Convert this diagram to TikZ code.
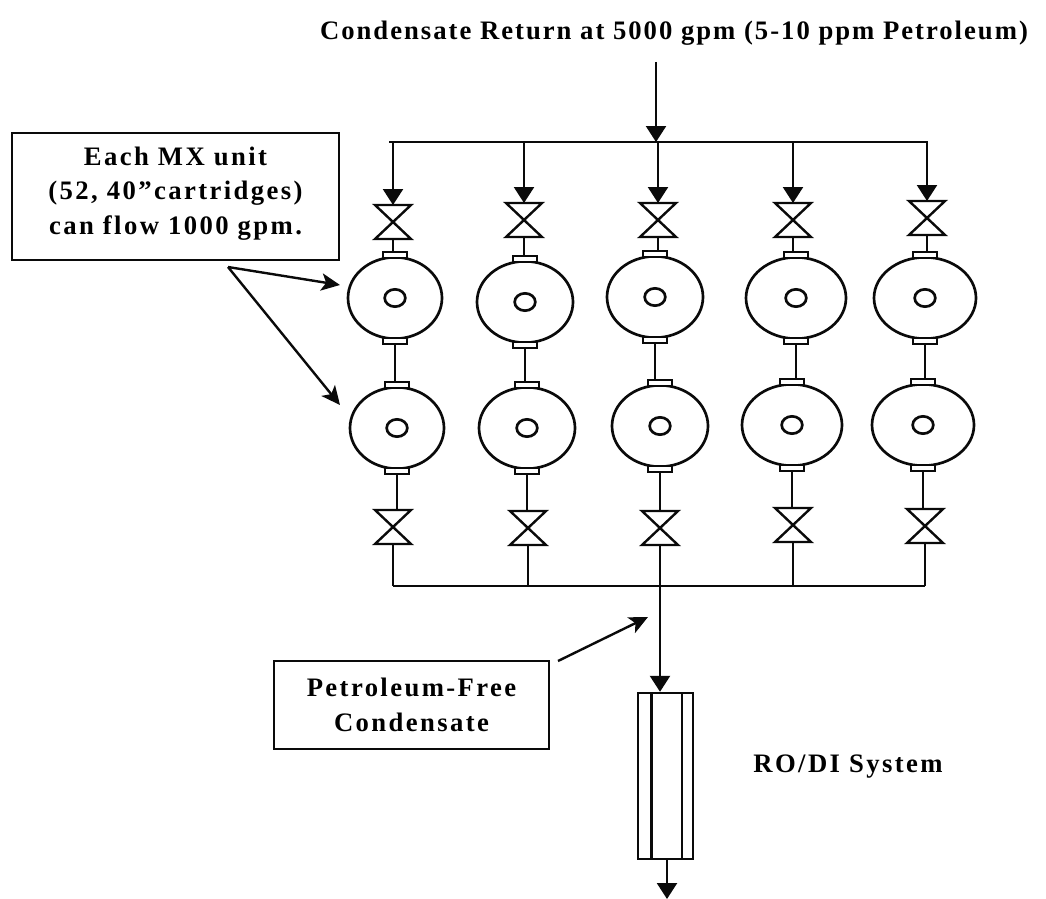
\documentclass[tikz,border=0pt]{standalone}
\usepackage{fontspec}
\setmainfont[LetterSpace=9]{Liberation Serif}
\usetikzlibrary{arrows.meta, positioning, shapes.geometric}
\definecolor{inkblack}{HTML}{0A0A0A}
\tikzset{
  pipe/.style={inkblack,line width=1.8pt},
  flow/.style={pipe,-{Triangle[length=12pt,width=15pt]}},
  callout/.style={inkblack,line width=1.8pt,-{Stealth[length=14pt,width=13pt,inset=3.5pt]}},
  vessel/.style={draw=inkblack,line width=2pt,ellipse,inner sep=0pt,outer sep=0pt,minimum height=61pt},
  ringhole/.style={draw=inkblack,line width=2pt,ellipse,inner sep=0pt,minimum width=15.5pt,minimum height=13pt},
  capbox/.style={draw=inkblack,fill=white,line width=1.7pt,inner sep=0pt,outer sep=0pt,minimum width=18pt,minimum height=4.5pt},
  valvebox/.style={inner sep=0pt,outer sep=0pt,minimum width=27pt,minimum height=25.5pt,
    append after command={\pgfextra{\draw[pipe,line join=miter]
      (\tikzlastnode.north west)--(\tikzlastnode.south east)--(\tikzlastnode.south west)
      --(\tikzlastnode.north east)--cycle;}}},
  notebox/.style={draw=inkblack,line width=1.6pt,inner sep=0pt,align=center,font=\bfseries\fontsize{20}{25.8}\selectfont},
  label/.style={font=\bfseries\fontsize{20}{25.8}\selectfont,inner sep=0pt}
}
\begin{document}
\begin{tikzpicture}[x=0.75pt,y=-0.75pt]
  %% Coordinates are the pixels of the scan, y running down
  \useasboundingbox(0,0) rectangle (1046,899);

  % Texts
  \node[label] (title) at (674,33){\addfontfeature{LetterSpace=7.5}Condensate Return at 5000 gpm (5-10 ppm Petroleum)};
  \node[label] (rodi) at (848,767){RO/DI System};
  \node[notebox,minimum width=245pt,minimum height=95pt] (unitnote) at (175.5,196.5)
    {Each MX unit\\(52, 40"cartridges)\\can flow 1000 gpm.\rule[-9pt]{0pt}{9pt}};
  \node[notebox,minimum width=206pt,minimum height=66pt] (freenote) at (411.5,705)
    {Petroleum-Free\\Condensate};

  % Inlet and top header
  \coordinate (inlet) at (656,62);
  \coordinate (hdrtop) at (656,142);
  \coordinate (hdrtopL) at (389,142);
  \coordinate (hdrtopR) at (928,142);
  \draw[flow](inlet)--(hdrtop);
  \draw[pipe](hdrtopL)--(hdrtopR);

  % One column: top valve, two vessels, bottom valve
  \foreach \i/\xt/\yt/\xa/\ya/\xb/\yb/\xv/\yv/\va in {
    1/393/222/395/298/397/428/393/527/47,
    2/524/220/525/302/527/428/528/528/48,
    3/658/220/655/297/660/426/660/528/48,
    4/793/220/796/298/792/425/793/525/50,
    5/927/218/925/298/923/425/925/526/51}{
    \node[valvebox] (valvetop\i) at (\xt,\yt){};
    \node[vessel,minimum width=\va*1.5pt] (vesselA\i) at (\xa,\ya){};
    \node[vessel,minimum width=\va*1.5pt] (vesselB\i) at (\xb,\yb){};
    \node[ringhole] (ringA\i) at (\xa,\ya){};
    \node[ringhole] (ringB\i) at (\xb,\yb){};
    \node[capbox,above=-0.5pt of vesselA\i] (capA\i){};
    \node[capbox,below=-0.5pt of vesselA\i] (capB\i){};
    \node[capbox,above=-0.5pt of vesselB\i] (capC\i){};
    \node[capbox,below=-0.5pt of vesselB\i] (capD\i){};
    \node[valvebox] (valvebot\i) at (\xv,\yv){};
    \coordinate (branchtop\i) at (hdrtopL -| valvetop\i);
    \coordinate (branchbot\i) at (\xv,586);
    \draw[flow](branchtop\i)--(valvetop\i.north);
    \draw[pipe](valvetop\i.south)--(valvetop\i.south |- capA\i.north);
    \draw[pipe](capB\i.south)--(capB\i.south |- capC\i.north);
    \draw[pipe](capD\i.south)--(capD\i.south |- valvebot\i.north);
    \draw[pipe](valvebot\i.south)--(branchbot\i);
  }

  % Bottom header and RO/DI column
  \draw[pipe](branchbot1)--(branchbot5);
  \node[draw=inkblack,line width=1.8pt,inner sep=0pt,minimum width=41pt,minimum height=124.5pt]
    (rofilter) at (665.5,776){};
  \node[draw=inkblack,line width=2pt,inner sep=0pt,minimum width=23pt,minimum height=124.5pt]
    (rotube) at (666.5,776){};
  \draw[flow](branchbot3)--(branchbot3 |- rofilter.north);
  \coordinate (outlet) at (667,899);
  \draw[flow](outlet |- rofilter.south)--(outlet);

  % Callout arrows
  \coordinate (unitfoot) at (228,267);
  \coordinate (unitA) at (340,285);
  \coordinate (unitB) at (340,405);
  \coordinate (freefoot) at (558,661);
  \coordinate (freetip) at (648,617);
  \draw[callout](unitfoot)--(unitA);
  \draw[callout](unitfoot)--(unitB);
  \draw[callout](freefoot)--(freetip);
\end{tikzpicture}
\end{document}
